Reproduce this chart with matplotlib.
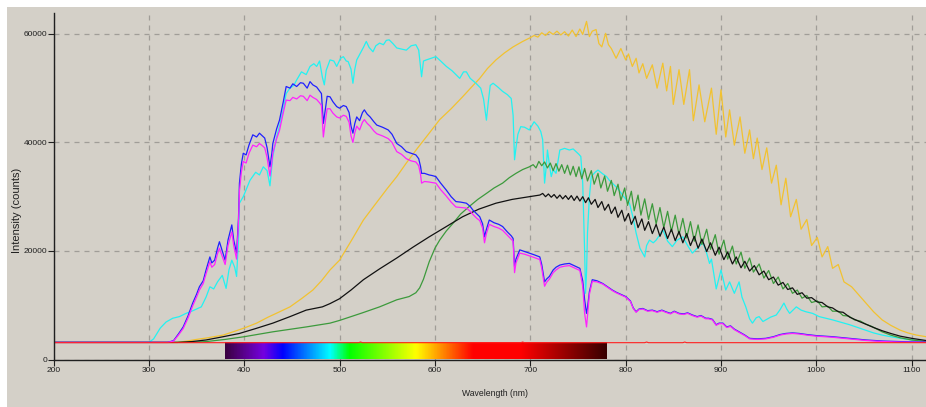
import numpy as np
import matplotlib
matplotlib.use("Agg")
import matplotlib.pyplot as plt
from matplotlib.colors import LinearSegmentedColormap
from matplotlib.patches import Rectangle

plt.rcParams['font.family'] = ['Liberation Sans', 'DejaVu Sans']

# ---------------- data (wavelength nm, intensity counts) ----------------
x_ticks = [200, 300, 400, 500, 600, 700, 800, 900, 1000, 1100]
y_ticks = [0, 20000, 40000, 60000]

cyan_wl = [200, 300, 305, 312, 318, 325, 332, 339, 345, 355, 360, 364, 368, 372, 377, 381, 384, 387, 390, 392,
           394, 395, 399, 406, 412, 416, 420, 424, 427, 430, 434, 437, 441, 444, 448, 452, 455, 460, 465, 469,
           473, 476, 479, 482, 484, 486, 490, 494, 497, 501, 504, 507, 509, 512, 514, 516, 518, 522, 525, 528,
           531, 535, 538, 542, 546, 549, 552, 556, 560, 565, 570, 575, 580, 583, 586, 588, 591, 596, 601, 606,
           612, 618, 622, 626, 630, 633, 637, 643, 648, 651, 654, 656, 658, 661, 666, 671, 676, 680, 682, 683.5,
           685, 687, 690, 694, 699, 704, 708, 711, 713, 715, 717, 718, 720, 722, 724, 727, 729, 731, 736, 741,
           745, 748, 751, 753, 755, 757, 758, 759, 760, 762, 764, 768, 771, 776, 780, 783, 786, 790, 793, 798,
           804, 808, 811, 815, 820, 822, 825, 829, 832, 836, 839, 844, 849, 854, 860, 865, 870, 875, 881, 884,
           888, 890, 895, 900, 905, 909, 914, 919, 922, 926, 930, 933, 937, 940, 944, 947, 952, 958, 962, 966,
           969, 972, 976, 979, 984, 989, 996, 1003, 1010, 1017, 1025, 1035, 1045, 1052, 1060, 1069, 1078, 1088,
           1100, 1115]
cyan_val = [3150, 3150, 3800, 5800, 6900, 7600, 7900, 8500, 8900, 9700, 11500, 13400, 13000, 14300, 15500, 13100, 16500, 18300, 17000, 15300,
            22000, 28800, 30000, 33000, 34500, 34000, 35500, 34800, 32000, 37400, 41000, 43000, 46000, 49000, 50000, 50500, 51500, 53000, 52500, 54000,
            54500, 54000, 55000, 52000, 50600, 53300, 55200, 55000, 54000, 55500, 55800, 55000, 54900, 53500, 50900, 53500, 55200, 56500, 57500, 58600,
            57500, 56700, 57800, 58300, 58000, 58800, 58900, 58200, 57400, 57200, 57000, 57800, 58000, 57000, 52100, 55000, 55200, 55500, 55800, 55000,
            54000, 53200, 52500, 51800, 53000, 53000, 51800, 50900, 50000, 48000, 44100, 47500, 50500, 50900, 50200, 49400, 48800, 48100, 45000, 36800,
            39000, 41500, 42900, 42800, 42300, 43800, 43000, 42000, 40500, 32500, 36000, 38600, 36000, 33700, 35000, 34300, 36500, 38600, 38900, 38600,
            38800, 38300, 37800, 37400, 32500, 20000, 12200, 16000, 23300, 30000, 33700, 34500, 34900, 34200, 33700, 33000, 32500, 31800, 31200, 30000,
            28800, 26000, 23300, 20500, 18900, 21000, 22000, 21500, 22000, 23000, 23900, 21800, 20800, 22000, 22600, 21000, 19600, 20500, 21500, 20200,
            17700, 18500, 13000, 16500, 12800, 14300, 12200, 14300, 11500, 9700, 7500, 6700, 7700, 7900, 7000, 7300, 7800, 8200, 9200, 10400,
            9300, 8500, 9200, 9700, 9100, 8800, 8500, 7900, 7600, 7300, 6900, 6400, 5800, 5400, 4900, 4500, 4200, 3900,
            3600, 3300]

blue_wl = [200, 320, 326, 331, 336, 341, 346, 350, 353, 357, 360, 364, 366, 369, 372, 374, 377, 380, 383, 387,
           389, 392, 394, 395, 397, 399, 402, 405, 409, 413, 416, 419, 421.5, 424, 427, 429, 430, 434, 437, 441,
           444, 448, 451, 455, 459, 462, 466, 469, 472, 476, 479, 481, 483, 485, 487, 490, 493, 497, 500, 504,
           507, 510, 512, 514, 516, 518, 521, 524, 526, 529, 532, 536, 539, 545, 551, 555, 560, 565, 570, 575,
           580, 583, 585, 586, 589, 594, 597, 601, 606, 612, 617, 622, 627, 633, 637, 640, 644, 647, 650, 652,
           654, 657, 662, 667, 671, 676, 680, 682, 683.5, 685, 689, 694, 699, 704, 710, 712, 715, 717, 720, 724,
           727, 731, 736, 741, 746, 750, 752, 755, 757, 759, 760, 762, 765, 770, 776, 781, 786, 790, 795, 800,
           805, 808, 811, 814, 818, 823, 828, 833, 838, 842, 847, 851, 856, 861, 865, 870, 875, 879, 884, 887,
           891, 895, 898, 902, 906, 910, 914, 919, 925, 930, 938, 947, 955, 962, 968, 975, 982, 990, 1000, 1017,
           1035, 1052, 1070, 1088, 1115]
blue_val = [3150, 3150, 3500, 4700, 6000, 8000, 10400, 12000, 13400, 14500, 16500, 18900, 17800, 18300, 20500, 21700, 20000, 18300, 22000, 24800,
            22000, 19600, 26000, 32500, 36000, 38000, 37700, 39500, 41400, 41000, 41700, 41200, 40800, 39000, 35500, 38000, 39800, 42500, 44100, 47500,
            50300, 50000, 50800, 50300, 51000, 50900, 50000, 51200, 50600, 50200, 49500, 49000, 43500, 46000, 48500, 48400, 47500, 46600, 46300, 46800,
            46600, 45500, 43000, 41700, 43500, 44700, 44000, 45500, 46000, 45200, 44700, 43800, 43200, 42800, 42300, 41500, 39800, 39200, 38300, 38000,
            37700, 37000, 35500, 34300, 34300, 34000, 33900, 33700, 32500, 31200, 30000, 29100, 29000, 28800, 28200, 27500, 26800, 26300, 25000, 22600,
            24000, 25700, 25200, 24900, 24500, 23500, 22800, 22300, 17100, 18500, 20200, 19900, 19600, 19300, 18900, 17500, 14300, 14800, 15300, 16500,
            17000, 17400, 17600, 17700, 17300, 17000, 16800, 14500, 11000, 8500, 9500, 12500, 14700, 14500, 14000, 13400, 12800, 12400, 12000, 11600,
            10800, 9500, 8800, 9300, 9400, 9000, 9100, 8800, 9100, 8800, 8500, 8900, 8500, 8400, 8600, 8200, 7900, 8100, 7600, 7600,
            7400, 6400, 6700, 6700, 6000, 6200, 5600, 5100, 4500, 3900, 3800, 3900, 4200, 4600, 4800, 4900, 4800, 4600, 4400, 4200,
            3900, 3600, 3400, 3300, 3200]

magenta_wl = blue_wl
magenta_val = [3150, 3150, 3400, 4500, 5700, 7600, 9900, 11500, 12800, 14000, 15800, 18000, 17000, 17500, 19500, 20500, 19000, 17500, 21000, 23500,
               21000, 18500, 25000, 31000, 34500, 36500, 36200, 38000, 39500, 39200, 39800, 39400, 39000, 37200, 33800, 36300, 38000, 40700, 42200, 45500,
               47800, 47700, 48300, 48000, 48600, 48500, 47700, 48700, 48300, 47900, 47300, 46800, 41000, 43800, 46200, 46200, 45400, 44700, 44500, 45000,
               44800, 43700, 41200, 40000, 41800, 43000, 42300, 43700, 44200, 43500, 43000, 42100, 41600, 41200, 40700, 40000, 38300, 37800, 37000, 36600,
               36400, 35700, 34000, 32500, 32800, 32700, 32600, 32500, 31300, 30100, 29000, 28100, 28000, 27900, 27300, 26700, 26000, 25600, 24200, 21500,
               23200, 24900, 24500, 24200, 23800, 22900, 22200, 21800, 16000, 17800, 19600, 19400, 19100, 18800, 18400, 16800, 13500, 14200, 14800, 16000,
               16500, 17000, 17200, 17300, 16900, 16600, 16400, 13500, 8500, 6000, 8000, 12000, 14400, 14300, 13900, 13300, 12700, 12300, 11900, 11500,
               10700, 9400, 8700, 9200, 9300, 8900, 9000, 8700, 9000, 8700, 8400, 8800, 8400, 8300, 8500, 8100, 7800, 8000, 7500, 7500,
               7300, 6300, 6600, 6600, 5900, 6100, 5500, 5000, 4400, 3800, 3700, 3800, 4100, 4500, 4700, 4800, 4700, 4500, 4300, 4100,
               3800, 3500, 3300, 3200, 3150]

yellow_wl = [200, 330, 340, 350, 360, 370, 378, 390, 400, 413, 425, 436, 448, 460, 472, 481, 490, 500, 512, 525,
             537, 550, 560, 570, 582, 594, 605, 617, 629, 640, 647, 655, 664, 673, 682, 692, 700, 704, 708, 712,
             716, 720, 724, 728, 732, 736, 740, 744, 748, 752, 755, 759, 762, 765, 769, 772, 775, 779, 782, 785,
             790, 795, 800, 803, 807, 811, 814, 818, 822, 828, 833, 839, 843, 847, 850, 856, 861, 867, 871, 877,
             883, 890, 895, 900, 905, 909, 914, 920, 925, 930, 934, 938, 943, 948, 953, 958, 963, 968, 973, 979,
             984, 990, 995, 1001, 1006, 1012, 1017, 1023, 1029, 1037, 1045, 1052, 1060, 1069, 1078, 1088, 1096, 1105, 1115]
yellow_val = [3150, 3150, 3400, 3700, 3950, 4250, 4500, 5200, 5800, 6700, 7800, 8700, 9700, 11200, 12800, 14500, 16500, 18300, 21800, 25700,
              28500, 31500, 33700, 36200, 39000, 41700, 44200, 46200, 48400, 50500, 51800, 53600, 55200, 56500, 57600, 58600, 59300, 59700, 59400, 60200,
              59700, 60400, 59900, 60500, 59800, 60400, 59600, 60700, 59500, 60900, 59900, 62300, 59500, 60500, 60800, 58200, 57600, 60100, 58000, 57300,
              55500, 57300, 55200, 56300, 54000, 55500, 52800, 54500, 51800, 54300, 50000, 54600, 49500, 54000, 47000, 53400, 47000, 53400, 44000, 50600,
              43800, 50000, 41500, 49700, 41000, 46000, 39500, 44700, 38000, 42300, 37000, 40800, 35000, 39000, 32500, 35800, 28500, 33400, 26300, 29500,
              24000, 25800, 21000, 22500, 18900, 20800, 16800, 17500, 14300, 13400, 11800, 10400, 8800, 7300, 6300, 5400, 4900, 4500, 4200]

green_wl = [200, 340, 360, 380, 400, 430, 465, 490, 500, 524, 542, 560, 573, 580, 584, 588, 594, 600, 605, 612,
            619, 627, 636, 645, 654, 662, 671, 678, 685, 692, 699, 703, 706, 709, 712, 715, 718, 721, 724, 727,
            730, 733, 736, 739, 742, 745, 748, 751, 754, 757, 760, 764, 767, 771, 774, 778, 781, 785, 788, 792,
            795, 799, 802, 806, 809, 813, 816, 820, 824, 828, 832, 836, 840, 844, 848, 852, 856, 860, 864, 868,
            872, 876, 880, 885, 889, 894, 898, 903, 907, 912, 916, 921, 925, 930, 934, 940, 945, 950, 955, 960,
            965, 970, 975, 980, 985, 990, 995, 1001, 1006, 1012, 1017, 1023, 1028, 1034, 1040, 1046, 1052, 1058, 1069, 1078,
            1088, 1100, 1115]
green_val = [3150, 3150, 3300, 3700, 4200, 5100, 6000, 6700, 7200, 8600, 9700, 11000, 11600, 12300, 13200, 14800, 18000, 20500, 22000, 23700,
             25100, 26800, 28200, 29500, 30600, 31600, 32500, 33500, 34300, 35000, 35500, 35900, 35300, 36500, 35700, 36400, 35300, 36200, 34800, 36100,
             34700, 35900, 34300, 35800, 34000, 35600, 33700, 35500, 33300, 35200, 32900, 34800, 32300, 34300, 31600, 33800, 31000, 33000, 30200, 32300,
             29300, 31600, 28400, 31000, 27400, 30300, 26600, 29600, 25800, 28700, 25000, 28000, 24300, 27300, 23600, 26600, 23000, 26000, 22400, 25400,
             21800, 24800, 21200, 24000, 20300, 23000, 19400, 22000, 18500, 20900, 17600, 19800, 16800, 18700, 16100, 17600, 15000, 16400, 14000, 15200,
             13000, 14000, 12200, 12800, 11300, 11800, 10500, 10800, 9700, 9800, 8900, 8900, 8100, 8000, 7300, 7100, 6500, 6100, 5100, 4500,
             4000, 3600, 3300]

black_wl = [200, 330, 345, 360, 378, 395, 412, 430, 448, 465, 482, 490, 500, 512, 525, 542, 560, 577, 594, 612,
            629, 646, 664, 681, 699, 710, 713, 716, 719, 722, 725, 728, 731, 734, 737, 740, 743, 746, 749, 752,
            755, 758, 761, 764, 768, 771, 775, 778, 782, 785, 789, 792, 796, 799, 803, 806, 810, 813, 817, 820,
            824, 828, 832, 836, 840, 844, 848, 852, 856, 860, 864, 868, 872, 876, 880, 885, 889, 894, 898, 903,
            907, 912, 916, 921, 925, 930, 935, 940, 945, 950, 955, 960, 965, 970, 975, 980, 985, 990, 995, 1001,
            1006, 1012, 1017, 1023, 1028, 1035, 1045, 1052, 1060, 1069, 1078, 1088, 1100, 1115]
black_val = [3150, 3150, 3300, 3600, 4200, 4800, 5700, 6700, 7900, 9100, 9700, 10300, 11200, 12800, 14700, 16700, 18700, 20700, 22600, 24500,
             26300, 27700, 28800, 29500, 30000, 30300, 30600, 30000, 30500, 29900, 30400, 29700, 30300, 29600, 30200, 29500, 30200, 29300, 30100, 29200,
             30000, 28900, 29800, 28600, 29500, 28000, 29100, 27500, 28600, 26900, 28100, 26200, 27500, 25500, 26900, 24900, 26400, 24300, 25900, 23800,
             25400, 23200, 24900, 22700, 24400, 22300, 24000, 21900, 23600, 21500, 23200, 21000, 22700, 20500, 22200, 19900, 21500, 19200, 20700, 18400,
             19800, 17600, 18900, 16900, 18100, 16300, 17300, 15600, 16300, 14700, 15200, 13700, 14200, 12900, 13200, 12000, 12300, 11300, 11400, 10600,
             10500, 9700, 9500, 8800, 8700, 7800, 7000, 6500, 5900, 5300, 4800, 4300, 3900, 3500]

red_wl = [200, 520, 522, 524, 600, 690, 692, 694, 760, 820, 822, 824, 860, 862, 864, 1115]
red_val = [3100, 3100, 3230, 3100, 3100, 3100, 3220, 3100, 3100, 3100, 3220, 3100, 3100, 3220, 3100, 3100]

# spectrum bar colour stops (wavelength, colour)
spec_wl = [380, 400, 420, 440, 490, 510, 580, 640, 690, 780]
spec_col = ['#3a0040', '#5a0090', '#7400e0', '#0000ff', '#00ffff', '#00ff00', '#ffff00', '#ff0000', '#ff0000', '#380000']

# ---------------- figure ----------------
W, H = 926, 407
fig = plt.figure(figsize=(W / 100, H / 100), dpi=100)
fig.patch.set_facecolor('white')
fig.patches.append(Rectangle((7 / W, 0), 1, (H - 7) / H, transform=fig.transFigure,
                             facecolor='#d4d0c8', edgecolor='none', zorder=-10))

ax = fig.add_axes([53.5 / W, 47.5 / H, (W - 53.5) / W, 346.8 / H])
ax.set_zorder(1)
ax.set_facecolor('#d4d0c8')
ax.set_xlim(200, 1115)
ax.set_ylim(0, 63900)

# spectrum bar
pos = [(w - spec_wl[0]) / (spec_wl[-1] - spec_wl[0]) for w in spec_wl]
cmap = LinearSegmentedColormap.from_list('spec', list(zip(pos, spec_col)))
grad = np.linspace(0, 1, 512)[None, :]
ax.imshow(grad, cmap=cmap, extent=(spec_wl[0], spec_wl[-1], 0, 3000), aspect='auto', zorder=2)

lw = 0.9
ax.plot(yellow_wl, yellow_val, color='#f2c230', lw=lw, zorder=3)
ax.plot(cyan_wl, cyan_val, color='#22f2f2', lw=lw, zorder=3)
ax.plot(green_wl, green_val, color='#3c9a3c', lw=lw, zorder=3)
ax.plot(black_wl, black_val, color='#111111', lw=lw, zorder=3)
ax.plot(blue_wl, blue_val, color='#2020ff', lw=lw, zorder=3)
ax.plot(magenta_wl, magenta_val, color='#ff22ff', lw=lw, zorder=3)
ax.plot(red_wl, red_val, color='#ff2020', lw=0.8, zorder=3)

# grid
ax.set_xticks(x_ticks)
ax.set_yticks(y_ticks)
ax.set_xticklabels([str(t) for t in x_ticks])
ax.set_yticklabels([str(t) for t in y_ticks])
ax.grid(True, color='#a09d98', linestyle=(0, (4, 4)), linewidth=0.9, zorder=1)
ax.set_axisbelow(True)

for s in ['top', 'right']:
    ax.spines[s].set_visible(False)
for s in ['left', 'bottom']:
    ax.spines[s].set_color('#202020')
    ax.spines[s].set_linewidth(1.0)
    ax.spines[s].set_zorder(4)

ax.tick_params(axis='both', labelsize=6, colors='#202020', length=4, width=0.8, pad=1.5)
ax.tick_params(axis='y', pad=0.5)

ax.set_ylabel('Intensity (counts)', fontsize=8, color='#202020')
ax.yaxis.set_label_coords(-0.036, 0.431)
ax.set_xlabel('Wavelength (nm)', fontsize=6.2, color='#202020')
ax.xaxis.set_label_coords(0.506, -0.084)

fig.savefig('out.png', dpi=100, facecolor=fig.get_facecolor())
